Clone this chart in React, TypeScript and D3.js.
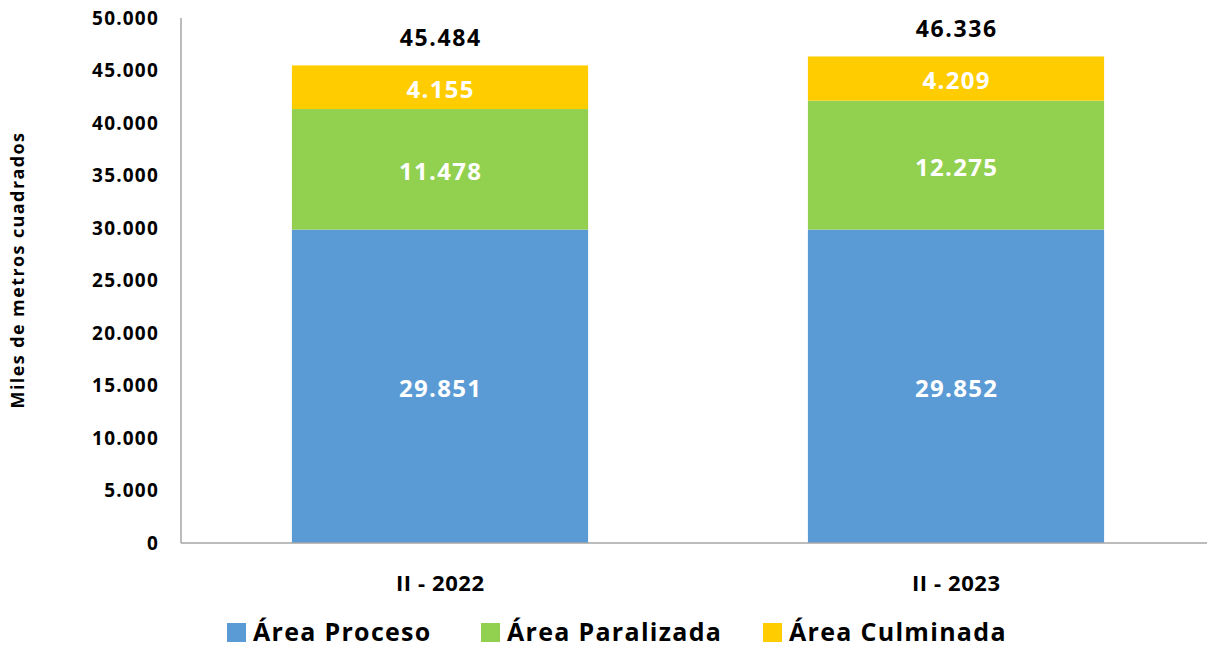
import React from "react";
import * as d3 from "d3";

const categories = ["II - 2022", "II - 2023"];
const seriesNames = ["Área Proceso", "Área Paralizada", "Área Culminada"];
const proceso = [29851, 29852];
const paralizada = [11478, 12275];
const culminada = [4155, 4209];
const totals = [45484, 46336];
const yTicks = [0, 5000, 10000, 15000, 20000, 25000, 30000, 35000, 40000, 45000, 50000];
const colors = ["#5B9BD5", "#92D050", "#FFCC00"];

const fmt = (v: number) => {
  const s = Math.round(v).toString();
  return s.replace(/\B(?=(\d{3})+(?!\d))/g, ".");
};

export default function App() {
  const W = 1207, H = 647;
  const font = "'Open Sans', 'Noto Sans', sans-serif";
  const y = d3.scaleLinear().domain([0, 50000]).range([543, 18]);
  const x = d3.scaleBand().domain(categories).range([182, 1214]).paddingInner(0.426).paddingOuter(0.213);
  const series = [proceso, paralizada, culminada];
  const legendX = [227, 481, 763];
  return (
    <svg width={W} height={H} style={{ position: "absolute", left: 0, top: 0, background: "#fff" }} fontFamily={font}>
      <rect x={0} y={0} width={W} height={H} fill="#fff" />
      {categories.map((c, i) => {
        let base = 0;
        const cx = (x(c) as number) + x.bandwidth() / 2;
        return (
          <g key={c}>
            {series.map((s, k) => {
              const y0 = base, y1 = base + s[i];
              base = y1;
              const top = y(y1), bot = y(y0);
              return (
                <g key={k}>
                  <rect x={x(c)} y={top} width={x.bandwidth()} height={bot - top} fill={colors[k]} />
                  <text x={cx + 0.6} y={(top + bot) / 2 + 2} dy="0.36em" textAnchor="middle" fill="#fff" fontWeight="bold" fontSize={24} letterSpacing={1.3}>{fmt(s[i])}</text>
                </g>
              );
            })}
            <text x={cx + 0.8} y={y(totals[i]) - 28} dy="0.36em" textAnchor="middle" fill="#000" fontWeight="bold" fontSize={23} letterSpacing={1.6}>{fmt(totals[i])}</text>
            <text x={cx + 0.3} y={583} dy="0.36em" textAnchor="middle" fill="#000" fontWeight="bold" fontSize={22} letterSpacing={0.6}>{c}</text>
          </g>
        );
      })}
      <line x1={181} x2={181} y1={18} y2={543} stroke="#A6A6A6" strokeWidth={1.5} />
      <line x1={181} x2={W} y1={543} y2={543} stroke="#A6A6A6" strokeWidth={1.5} />
      {yTicks.map((t) => (
        <text key={t} x={159} y={y(t)} dy="0.36em" textAnchor="end" fill="#000" fontWeight="bold" fontSize={19} letterSpacing={1.2}>{fmt(t)}</text>
      ))}
      <text transform={`translate(24,${270}) rotate(-90)`} textAnchor="middle" fill="#000" fontWeight="bold" fontSize={18} letterSpacing={1.4}>Miles de metros cuadrados</text>
      {seriesNames.map((n, k) => (
        <g key={n}>
          <rect x={legendX[k]} y={623} width={19} height={19} fill={colors[k]} />
          <text x={legendX[k] + 26} y={641} fill="#000" fontWeight="bold" fontSize={25} letterSpacing={1.3}>{n}</text>
        </g>
      ))}
    </svg>
  );
}
